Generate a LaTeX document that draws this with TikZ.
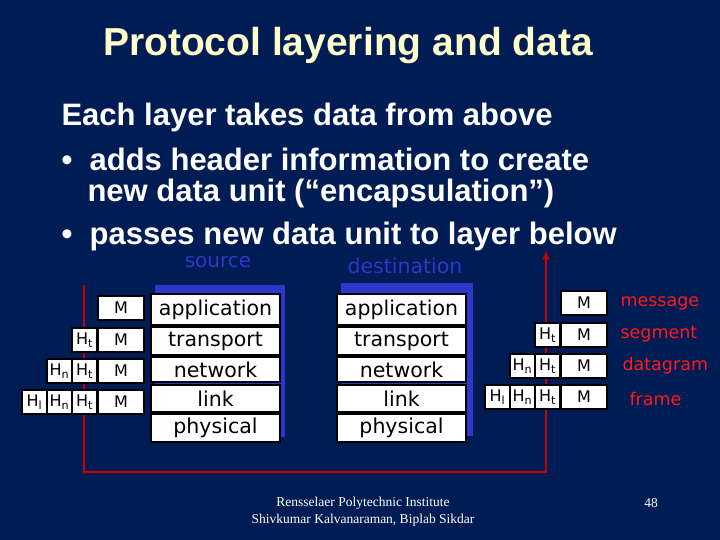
\documentclass[tikz,border=0pt]{standalone}
\usepackage{fontspec}
\setmainfont{Liberation Sans}
\newfontfamily\boxfont{DejaVu Sans}
\newfontfamily\footfont{Liberation Serif}
\begin{document}
\begin{tikzpicture}[x=1pt,y=-1pt,
  lay/.style={draw=black,line width=2pt,fill=white,minimum width=129pt,anchor=north west,inner sep=0pt,font=\boxfont\fontsize{20.5}{20.5}\selectfont},
  hb/.style={draw=black,line width=2pt,fill=white,anchor=north west,inner sep=0pt,minimum height=24pt,font=\boxfont\fontsize{16}{16}\selectfont},
  lbl/.style={text=red!90!white,font=\boxfont\fontsize{17.5}{17.5}\selectfont,anchor=west},
  bodyt/.style={text=white,font=\bfseries\fontsize{31}{31}\selectfont,anchor=west},
  redl/.style={draw=red!80!black,line width=2.2pt}]
\definecolor{bg}{RGB}{0,28,84}
\definecolor{sh}{RGB}{45,55,200}
\fill[bg] (0,0) rectangle (720,540);
\useasboundingbox (0,0) rectangle (720,540);
\node[text={rgb,255:red,255;green,255;blue,204},font=\bfseries\fontsize{39}{39}\selectfont] (title) at (348,46) {Protocol layering and data};
\node[bodyt] (b1) at (58,117) {Each layer takes data from above};
\node[bodyt] (b2) at (58,159) {\textbullet\ \ adds header information to create};
\node[bodyt] (b3) at (84,193) {new data unit (“encapsulation”)};
\node[bodyt] (b4) at (58,236) {\textbullet\ \ passes new data unit to layer below};
% red path
\coordinate (r1) at (84,285);
\coordinate (r2) at (84,472);
\coordinate (r3) at (546,472);
\coordinate (r4) at (546,250);
\draw[redl,-latex] (r1) -- (r2) -- (r3) -- (r4);
\node[text=sh,font=\boxfont\fontsize{20}{20}\selectfont] (src) at (218,262) {source};
\node[text=sh,font=\boxfont\fontsize{20.5}{20.5}\selectfont] (dst) at (405,266) {destination};
% shadows
\fill[sh] (155,285) rectangle (285,437);
\fill[sh] (341,283) rectangle (473,436);
\foreach \x/\p in {150/s,336/d}{
 \node[lay,minimum height=31pt] (\p a) at (\x,293) {application};
 \node[lay,minimum height=28pt] (\p t) at (\x,326) {transport};
 \node[lay,minimum height=25pt] (\p n) at (\x,356) {network};
 \node[lay,minimum height=27pt] (\p l) at (\x,384) {link};
 \node[lay,minimum height=28pt] (\p p) at (\x,413) {physical};
}
% source headers
\node[hb,minimum width=46pt] (m1) at (97,295) {M};
\node[hb,minimum width=46pt] (m2) at (97,327) {M};
\node[hb,minimum width=25pt] (t2) at (71,327) {H\textsubscript{t}};
\node[hb,minimum width=46pt] (m3) at (97,358) {M};
\node[hb,minimum width=25pt] (t3) at (71,358) {H\textsubscript{t}};
\node[hb,minimum width=25pt] (n3) at (46,358) {H\textsubscript{n}};
\node[hb,minimum width=46pt] (m4) at (97,389) {M};
\node[hb,minimum width=25pt] (t4) at (71,389) {H\textsubscript{t}};
\node[hb,minimum width=25pt] (n4) at (46,389) {H\textsubscript{n}};
\node[hb,minimum width=25pt] (l4) at (21,389) {H\textsubscript{l}};
% dest headers
\node[hb,minimum width=46pt] (dm1) at (560,290) {M};
\node[hb,minimum width=46pt] (dm2) at (560,322) {M};
\node[hb,minimum width=25pt] (dt2) at (534,322) {H\textsubscript{t}};
\node[hb,minimum width=46pt] (dm3) at (560,353) {M};
\node[hb,minimum width=25pt] (dt3) at (534,353) {H\textsubscript{t}};
\node[hb,minimum width=25pt] (dn3) at (509,353) {H\textsubscript{n}};
\node[hb,minimum width=46pt] (dm4) at (560,384) {M};
\node[hb,minimum width=25pt] (dt4) at (534,384) {H\textsubscript{t}};
\node[hb,minimum width=25pt] (dn4) at (509,384) {H\textsubscript{n}};
\node[hb,minimum width=25pt] (dl4) at (484,384) {H\textsubscript{l}};
\node[lbl] (lm) at (617,303) {message};
\node[lbl] (ls) at (617,334) {segment};
\node[lbl] (ld) at (619,366) {datagram};
\node[lbl] (lf) at (626,399) {frame};
\node[text=white,font=\footfont\fontsize{13.5}{17}\selectfont,align=center] (foot) at (363,512) {Rensselaer Polytechnic Institute\\Shivkumar Kalvanaraman, Biplab Sikdar};
\node[text=white,font=\footfont\fontsize{13.5}{13.5}\selectfont] (pg) at (651,503) {48};
\end{tikzpicture}
\end{document}
